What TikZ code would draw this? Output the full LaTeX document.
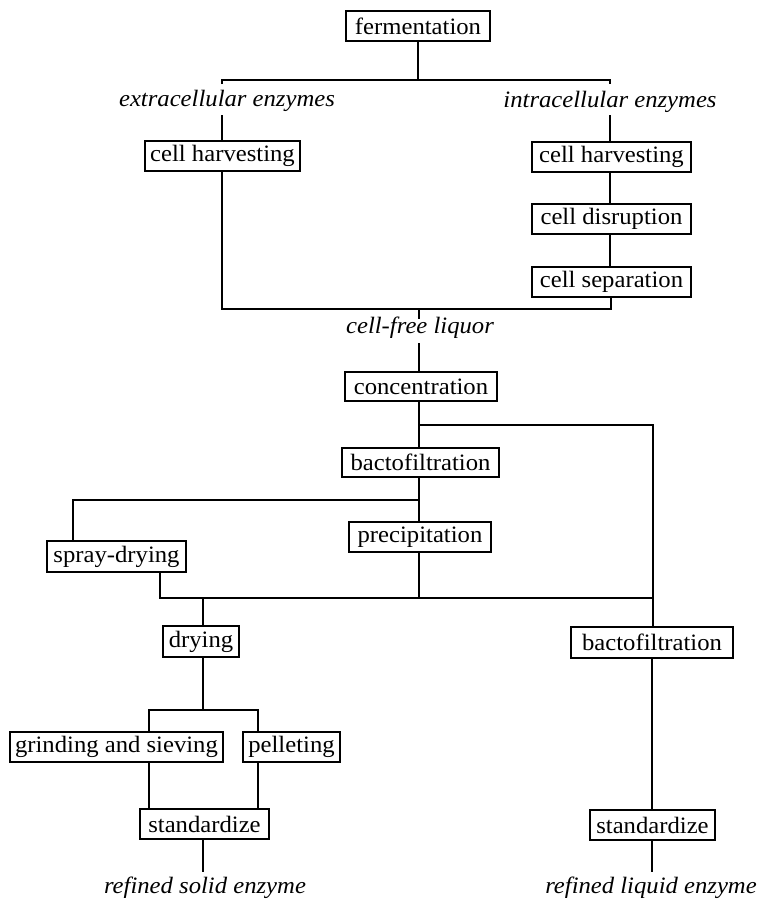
\documentclass[tikz,border=0pt]{standalone}
\usepackage{fontspec}
\setmainfont{Liberation Serif}[FakeStretch=1.05]
\begin{document}
\begin{tikzpicture}[x=1pt,y=-1pt,
  box/.style={draw,line width=1.2pt,inner sep=0pt,minimum height=30pt,font=\fontsize{23.5}{25}\selectfont},
  lbl/.style={inner sep=0pt,font=\fontsize{23.5}{25}\selectfont\itshape},
  ln/.style={line width=1.2pt}]
\useasboundingbox (0,0) rectangle (759,902);
% nodes
\node[box,minimum width=144pt] (ferm) at (418,26) {fermentation};
\node[lbl] (ext) at (227,101) {extracellular enzymes};
\node[lbl] (int) at (610,102) {intracellular enzymes};
\node[box,minimum width=155pt] (ch1) at (222.5,156) {cell harvesting};
\node[box,minimum width=159pt] (ch2) at (611.5,157) {cell harvesting};
\node[box,minimum width=159pt] (cd) at (611.5,219) {cell disruption};
\node[box,minimum width=159pt] (cs) at (611.5,282) {cell separation};
\node[lbl] (cfl) at (420,328) {cell-free liquor};
\node[box,minimum width=152pt,minimum height=29pt] (conc) at (421,386.5) {concentration};
\node[box,minimum width=157pt,minimum height=29pt] (bf1) at (420.5,462.5) {bactofiltration};
\node[box,minimum width=142pt] (prec) at (420,537) {precipitation};
\node[box,minimum width=139pt,minimum height=31pt] (spray) at (116.5,556.5) {spray-drying};
\node[box,minimum width=76pt,minimum height=31pt] (dry) at (201,641.5) {drying};
\node[box,minimum width=162pt,minimum height=31pt] (bf2) at (652,642.5) {bactofiltration};
\node[box,minimum width=213pt] (grind) at (116.5,747) {grinding and sieving};
\node[box,minimum width=97pt] (pell) at (291.5,747) {pelleting};
\node[box,minimum width=129pt] (std1) at (204.5,824) {standardize};
\node[box,minimum width=125pt] (std2) at (652.5,825) {standardize};
\node[lbl] (rse) at (205,888) {refined solid enzyme};
\node[lbl] (rle) at (651,888) {refined liquid enzyme};
% coordinates
\coordinate (t1) at (418,80);
\coordinate (t1l) at (222,80);
\coordinate (t1r) at (610,80);
\coordinate (t1lt) at (222,84);
\coordinate (t1rt) at (610,84);
\coordinate (e1) at (222,115);
\coordinate (e2) at (610,115);
\coordinate (j1l) at (222,309);
\coordinate (j1r) at (611,309);
\coordinate (j1c) at (419,309);
\coordinate (j1d) at (419,319);
\coordinate (c1) at (419,343);
\coordinate (b1) at (419,425);
\coordinate (b1r) at (653,425);
\coordinate (b2) at (419,500);
\coordinate (b2l) at (73,500);
\coordinate (j2l) at (160,598);
\coordinate (j2c) at (419,598);
\coordinate (j2r) at (653,598);
\coordinate (j2d) at (203,598);
\coordinate (d1) at (203,710);
\coordinate (d1l) at (149,710);
\coordinate (d1r) at (258,710);
\coordinate (end1) at (203,872);
\coordinate (end2) at (652,872);
% connectors
\draw[ln] (ferm.south -| t1) -- (t1);
\draw[ln] (t1lt) -- (t1l) -- (t1r) -- (t1rt);
\draw[ln] (e1) -- (e1 |- ch1.north);
\draw[ln] (e2) -- (e2 |- ch2.north);
\draw[ln] (ch2.south -| e2) -- (cd.north -| e2);
\draw[ln] (cd.south -| e2) -- (cs.north -| e2);
\draw[ln] (ch1.south -| j1l) -- (j1l) -- (j1r) -- (cs.south -| j1r);
\draw[ln] (j1c) -- (j1d);
\draw[ln] (c1) -- (conc.north -| c1);
\draw[ln] (conc.south -| b1) -- (bf1.north -| b1);
\draw[ln] (b1) -- (b1r) -- (bf2.north -| b1r);
\draw[ln] (bf1.south -| b2) -- (prec.north -| b2);
\draw[ln] (b2) -- (b2l) -- (spray.north -| b2l);
\draw[ln] (spray.south -| j2l) -- (j2l) -- (j2r);
\draw[ln] (prec.south -| j2c) -- (j2c);
\draw[ln] (j2d) -- (dry.north -| j2d);
\draw[ln] (dry.south -| d1) -- (d1);
\draw[ln] (grind.north -| d1l) -- (d1l) -- (d1r) -- (pell.north -| d1r);
\draw[ln] (grind.south -| d1l) -- (std1.north -| d1l);
\draw[ln] (pell.south -| d1r) -- (std1.north -| d1r);
\draw[ln] (std1.south -| end1) -- (end1);
\draw[ln] (bf2.south -| end2) -- (std2.north -| end2);
\draw[ln] (std2.south -| end2) -- (end2);
\end{tikzpicture}
\end{document}
